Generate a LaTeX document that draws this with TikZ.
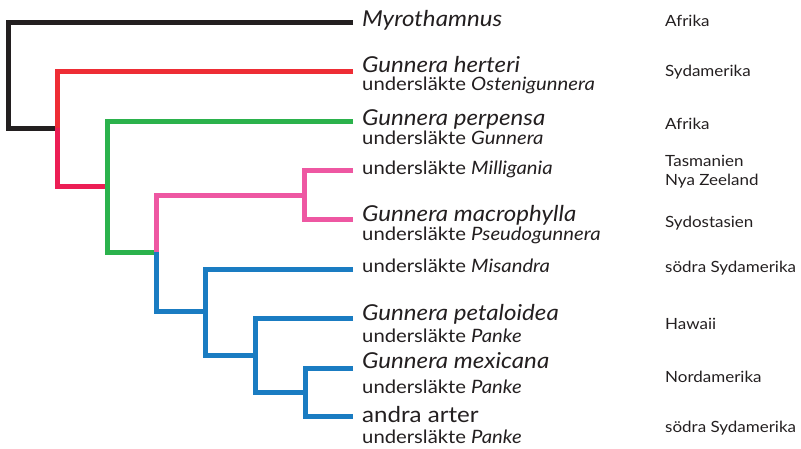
\documentclass[tikz,border=0pt]{standalone}
\usepackage{fontspec}
\setmainfont{Lato}[FakeStretch=1.1]
\definecolor{cblack}{HTML}{231F20}
\definecolor{cred}{HTML}{EE2D35}
\definecolor{ccrim}{HTML}{EC1E55}
\definecolor{cgreen}{HTML}{2BB24C}
\definecolor{cpink}{HTML}{EE57A2}
\definecolor{cblue}{HTML}{1A7CC2}
\definecolor{ctext}{HTML}{231F20}
\begin{document}
\begin{tikzpicture}[x=1bp,y=-1bp,
  br/.style={line width=5bp, line join=miter},
  nm/.style={font=\fontsize{22}{24}\selectfont\itshape, anchor=base west, inner sep=0, text=ctext},
  sub/.style={font=\fontsize{18.5}{20}\selectfont, anchor=base west, inner sep=0, text=ctext},
  reg/.style={font=\fontsize{15.5}{17}\selectfont, anchor=base west, inner sep=0, text=ctext}]
\useasboundingbox (0,0) rectangle (801,449);
% tips
\coordinate (t1) at (353,22.5);
\coordinate (t2) at (353,71.5);
\coordinate (t3) at (353,121.5);
\coordinate (t4) at (353,170.5);
\coordinate (t5) at (353,220);
\coordinate (t6) at (353,269.5);
\coordinate (t7) at (353,318.5);
\coordinate (t8) at (353,368.5);
\coordinate (t9) at (353,416);
% internal joins
\coordinate (j1) at (57.5,128.5);
\coordinate (j2) at (107.5,187);
\coordinate (j3) at (156.5,252.5);
\coordinate (j4) at (304.5,195.5);
\coordinate (j5) at (205.5,311.5);
\coordinate (j6) at (255.5,355.5);
\coordinate (j7) at (305,392.5);
% branches
\draw[br,cblack] (t1) -| (8.5,128.5) -- (j1);
\draw[br,cred] (t2) -| (j1);
\draw[br,ccrim] (j1) |- (j2);
\draw[br,cgreen] (t3) -| (j2 |- j3) -- (j3);
\draw[br,cpink] (j3) |- (j4);
\draw[br,cpink] (t4) -| (j4 |- t5) -- (t5);
\draw[br,cblue] (j3) |- (j5);
\draw[br,cblue] (t6) -| (j5 |- j6) -- (j6);
\draw[br,cblue] (t7) -| (j6 |- j7) -- (j7);
\draw[br,cblue] (t8) -| (j7 |- t9) -- (t9);
% names
\node[nm] (l1) at (362,26.5) {Myrothamnus};
\node[nm] (l2) at (362,72.5) {Gunnera herteri};
\node[sub] (s2) at (362,90.5) {undersläkte \textit{Ostenigunnera}};
\node[nm] (l3) at (362,125.5) {Gunnera perpensa};
\node[sub] (s3) at (362,145) {undersläkte \textit{Gunnera}};
\node[sub] (s4) at (362,175) {undersläkte \textit{Milligania}};
\node[nm] (l5) at (362,222) {Gunnera macrophylla};
\node[sub] (s5) at (362,241) {undersläkte \textit{Pseudogunnera}};
\node[sub] (s6) at (362,273) {undersläkte \textit{Misandra}};
\node[nm] (l7) at (362,320.5) {Gunnera petaloidea};
\node[sub] (s7) at (362,343) {undersläkte \textit{Panke}};
\node[nm] (l8) at (362,369) {Gunnera mexicana};
\node[sub] (s8) at (362,393) {undersläkte \textit{Panke}};
\node[nm,font=\fontsize{22}{24}\selectfont] (l9) at (362,422) {andra arter};
\node[sub] (s9) at (362,443) {undersläkte \textit{Panke}};
% regions
\node[reg] (r1) at (665,27) {Afrika};
\node[reg] (r2) at (665,77) {Sydamerika};
\node[reg] (r3) at (665,130) {Afrika};
\node[reg] (r4a) at (665,167) {Tasmanien};
\node[reg] (r4b) at (665,185.5) {Nya Zeeland};
\node[reg] (r5) at (665,228) {Sydostasien};
\node[reg] (r6) at (665,273) {södra Sydamerika};
\node[reg] (r7) at (665,330) {Hawaii};
\node[reg] (r8) at (665,383) {Nordamerika};
\node[reg] (r9) at (665,432) {södra Sydamerika};
\end{tikzpicture}
\end{document}
